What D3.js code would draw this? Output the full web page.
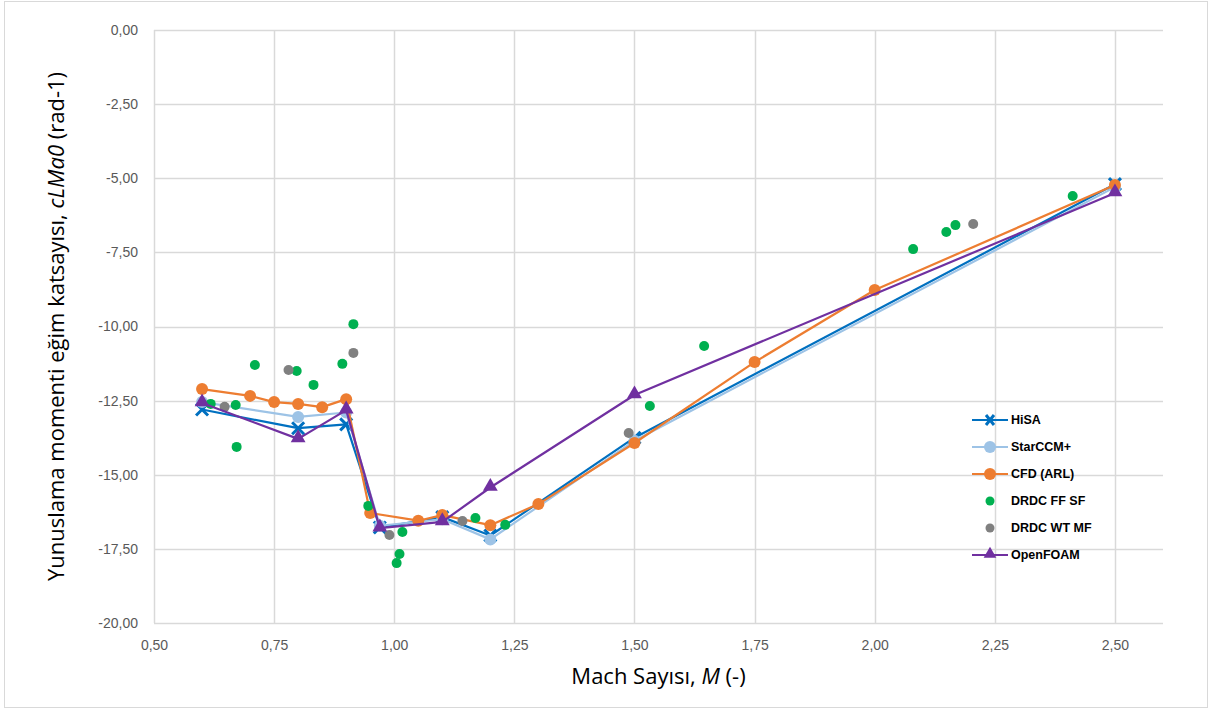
<!DOCTYPE html>
<html>
<head>
<meta charset="utf-8">
<script src="https://cdn.jsdelivr.net/npm/d3@7"></script>
<style>
  body { margin: 0; background: #fff; }
  text { font-family: "Liberation Sans", Arial, sans-serif; }
</style>
</head>
<body>
<script>
// series values (Mach, cLMa0)
var hisaMach = [0.6, 0.8, 0.9, 0.97, 1.1, 1.2, 1.5, 2.5];
var hisaVal  = [-12.8, -13.43, -13.3, -16.78, -16.43, -17.05, -13.75, -5.2];

var starMach = [0.6, 0.8, 0.9, 0.97, 1.1, 1.2, 1.5, 2.5];
var starVal  = [-12.55, -13.05, -12.9, -16.72, -16.5, -17.18, -13.85, -5.3];

var arlMach = [0.6, 0.7, 0.75, 0.8, 0.85, 0.9, 0.95, 1.05, 1.1, 1.2, 1.3, 1.5, 1.75, 2.0, 2.5];
var arlVal  = [-12.11, -12.34, -12.55, -12.61, -12.72, -12.45, -16.29, -16.55, -16.36, -16.7, -15.99, -13.93, -11.2, -8.77, -5.23];

var ffMach = [0.618, 0.67, 0.672, 0.71, 0.797, 0.832, 0.892, 0.915, 0.946, 1.017, 1.011, 1.005, 1.169, 1.231, 1.532, 1.645, 2.08, 2.149, 2.168, 2.412];
var ffVal  = [-12.61, -12.65, -14.06, -11.3, -11.5, -11.97, -11.26, -9.92, -16.05, -16.93, -17.67, -17.98, -16.46, -16.69, -12.68, -10.66, -7.39, -6.81, -6.58, -5.6];

var wtMach = [0.647, 0.78, 0.915, 0.99, 1.142, 1.488, 2.205];
var wtVal  = [-12.71, -11.47, -10.89, -17.03, -16.56, -13.59, -6.54];

var foamMach = [0.6, 0.8, 0.9, 0.97, 1.1, 1.2, 1.5, 2.5];
var foamVal  = [-12.58, -13.79, -12.82, -16.8, -16.59, -15.43, -12.31, -5.5];

var xTicks = [0.5, 0.75, 1.0, 1.25, 1.5, 1.75, 2.0, 2.25, 2.5];
var yTicks = [0, -2.5, -5, -7.5, -10, -12.5, -15, -17.5, -20];

var seriesNames = ["HiSA", "StarCCM+", "CFD (ARL)", "DRDC FF SF", "DRDC WT MF", "OpenFOAM"];

var W = 1211, H = 708;
var margin = {top: 30, right: 48, bottom: 85, left: 154};

var svg = d3.select("body").append("svg")
    .attr("width", W)
    .attr("height", H);

// outer chart border
svg.append("rect")
    .attr("x", 4.5).attr("y", 1.5)
    .attr("width", W - 8).attr("height", H - 2)
    .style("fill", "none")
    .style("stroke", "#d9d9d9");

var x = d3.scaleLinear().domain([0.5, 2.6]).range([margin.left, W - margin.right]);
var y = d3.scaleLinear().domain([-20, 0]).range([H - margin.bottom, margin.top]);

var fmt = function(d) { return d3.format(".2f")(d).replace(".", ",").replace("−", "-"); };

// gridlines
svg.append("g").selectAll("line")
    .data(yTicks)
  .enter().append("line")
    .attr("x1", x(0.5)).attr("x2", x(2.6))
    .attr("y1", function(d) { return Math.round(y(d)) + 0.5; })
    .attr("y2", function(d) { return Math.round(y(d)) + 0.5; })
    .style("stroke", "#d9d9d9")
    .style("stroke-width", 1.5);

svg.append("g").selectAll("line")
    .data(xTicks)
  .enter().append("line")
    .attr("x1", function(d) { return Math.round(x(d)) + 0.5; })
    .attr("x2", function(d) { return Math.round(x(d)) + 0.5; })
    .attr("y1", y(0)).attr("y2", y(-20))
    .style("stroke", "#d9d9d9")
    .style("stroke-width", 1.5);

// axes (labels only, Excel style)
var xAxis = svg.append("g")
    .attr("transform", "translate(0," + (y(-20) + 14) + ")")
    .call(d3.axisBottom(x).tickValues(xTicks).tickFormat(fmt).tickSize(0));
var yAxis = svg.append("g")
    .attr("transform", "translate(" + (x(0.5) - 13) + ",0)")
    .call(d3.axisLeft(y).tickValues(yTicks).tickFormat(fmt).tickSize(0));
[xAxis, yAxis].forEach(function(a) {
  a.select(".domain").remove();
  a.selectAll("text")
      .style("font-size", "14px")
      .style("fill", "#595959");
});

// axis titles
var yt = svg.append("text")
    .attr("transform", "translate(64," + ((y(0) + y(-20)) / 2) + ") rotate(-90)")
    .attr("text-anchor", "middle")
    .style("font-family", "'Open Sans', 'Noto Sans', sans-serif")
    .style("font-size", "22px")
    .style("fill", "#000");
yt.append("tspan").text("Yunuslama momenti eğim katsayısı, ");
yt.append("tspan").style("font-style", "italic").text("cLMa0");
yt.append("tspan").text(" (rad-1)");

var xt = svg.append("text")
    .attr("x", (x(0.5) + x(2.6)) / 2)
    .attr("y", 684)
    .attr("text-anchor", "middle")
    .style("font-family", "'Open Sans', 'Noto Sans', sans-serif")
    .style("font-size", "22px")
    .style("fill", "#000");
xt.append("tspan").text("Mach Sayısı, ");
xt.append("tspan").style("font-style", "italic").text("M");
xt.append("tspan").text(" (-)");

function pts(mach, vals) {
  return mach.map(function(m, i) { return [m, vals[i]]; });
}

var line = d3.line()
    .x(function(d) { return x(d[0]); })
    .y(function(d) { return y(d[1]); });

var triangle = d3.symbol().type(d3.symbolTriangle).size(95);

function drawLine(data, color) {
  svg.append("path")
      .datum(data)
      .attr("d", line)
      .style("fill", "none")
      .style("stroke", color)
      .style("stroke-width", 2.2)
      .style("stroke-linejoin", "round");
}

function drawCircles(data, color, r) {
  svg.append("g").selectAll("circle")
      .data(data)
    .enter().append("circle")
      .attr("cx", function(d) { return x(d[0]); })
      .attr("cy", function(d) { return y(d[1]); })
      .attr("r", r)
      .style("fill", color);
}

function drawCrosses(data, color) {
  svg.append("g").selectAll("path")
      .data(data)
    .enter().append("path")
      .attr("d", function(d) {
        var cx = x(d[0]), cy = y(d[1]), s = 6;
        return "M" + (cx - s) + "," + (cy - s) + "L" + (cx + s) + "," + (cy + s) +
               "M" + (cx - s) + "," + (cy + s) + "L" + (cx + s) + "," + (cy - s);
      })
      .style("stroke", color)
      .style("stroke-width", 3);
}

function drawTriangles(data, color) {
  svg.append("g").selectAll("path")
      .data(data)
    .enter().append("path")
      .attr("d", triangle)
      .attr("transform", function(d) { return "translate(" + x(d[0]) + "," + (y(d[1]) - 1) + ")"; })
      .style("fill", color);
}

var colors = ["#0070c0", "#9dc3e6", "#ed7d31", "#00b050", "#808080", "#7030a0"];

var hisa = pts(hisaMach, hisaVal),
    star = pts(starMach, starVal),
    arl = pts(arlMach, arlVal),
    ff = pts(ffMach, ffVal),
    wt = pts(wtMach, wtVal),
    foam = pts(foamMach, foamVal);

drawLine(hisa, colors[0]);
drawCrosses(hisa, colors[0]);
drawLine(star, colors[1]);
drawCircles(star, colors[1], 6);
drawLine(arl, colors[2]);
drawCircles(arl, colors[2], 6);
drawCircles(ff, colors[3], 5);
drawCircles(wt, colors[4], 5);
drawLine(foam, colors[5]);
drawTriangles(foam, colors[5]);

// legend
var legend = svg.append("g").attr("transform", "translate(972,420)");
seriesNames.forEach(function(name, i) {
  var g = legend.append("g").attr("transform", "translate(0," + (i * 27) + ")");
  var c = colors[i];
  if (i !== 3 && i !== 4) {
    g.append("line").attr("x1", 0).attr("x2", 36).attr("y1", 0).attr("y2", 0)
        .style("stroke", c).style("stroke-width", 2.2);
  }
  if (i === 0) {
    g.append("path").attr("d", "M14,-5L22,5M14,5L22,-5").style("stroke", c).style("stroke-width", 3);
  } else if (i === 5) {
    g.append("path").attr("d", d3.symbol().type(d3.symbolTriangle).size(70)).attr("transform", "translate(18,-1)").style("fill", c);
  } else {
    g.append("circle").attr("cx", 18).attr("cy", 0).attr("r", i >= 3 ? 4.5 : 6).style("fill", c);
  }
  g.append("text")
      .attr("x", 39).attr("y", 0).attr("dy", "0.35em")
      .style("font-size", "12.5px")
      .style("font-weight", "bold")
      .style("fill", "#000")
      .text(name);
});
</script>
</body>
</html>
